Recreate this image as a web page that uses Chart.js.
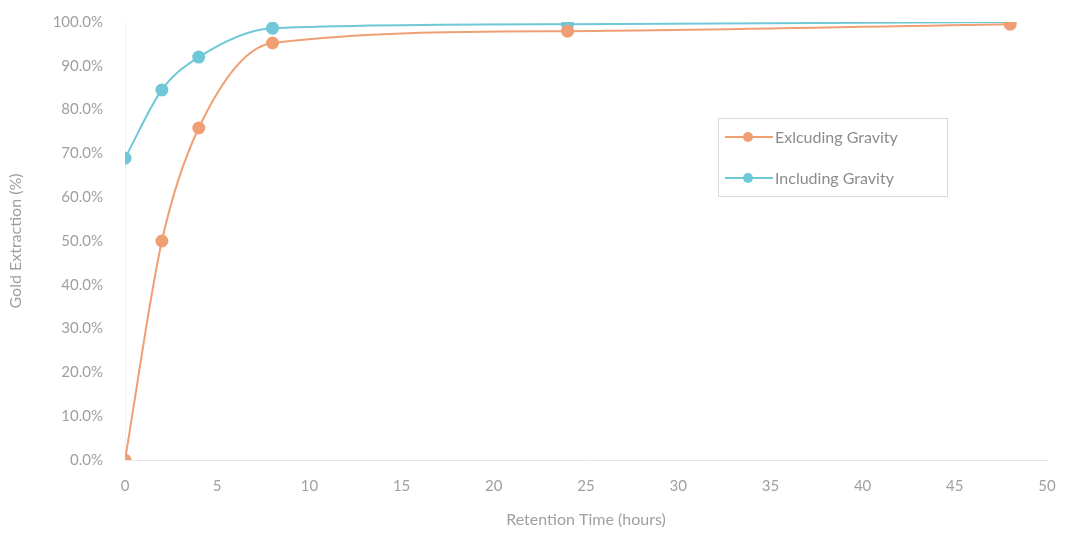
<!DOCTYPE html>
<html lang="en">
<head>
  <meta charset="UTF-8" />
  <title>Gold Extraction</title>
  <script src="https://cdn.jsdelivr.net/npm/chart.js@4.4.0/dist/chart.umd.min.js"></script>
  <style>
    body { margin: 0; background: #fff; font-family: Lato, "Open Sans", sans-serif; }
    #wrap { position: relative; width: 1065px; height: 533px; }
    #legend {
      position: absolute; left: 718px; top: 118px; width: 230px; height: 79px;
      border: 1px solid #d9d9d9; box-sizing: border-box; color: #8c8c8c; font-size: 16px;
    }
    .item { position: absolute; left: 6px; display: flex; align-items: center; }
    .mark { position: relative; width: 48px; height: 12px; margin-right: 2px; }
    .mark .ln { position: absolute; left: 0; right: 0; top: 5px; height: 2px; }
    .mark .dot { position: absolute; left: 18px; top: 1px; width: 10px; height: 10px; border-radius: 50%; }
  </style>
</head>
<body>
  <div id="wrap">
    <canvas id="chart" width="1065" height="533"></canvas>
    <div id="legend"></div>
  </div>

  <script>
    const hours = [0, 2, 4, 8, 24, 48];
    const excluding = [0, 50.0, 75.8, 95.2, 97.9, 99.5];
    const including = [68.9, 84.5, 92.0, 98.6, 99.5, 100.0];
    const seriesNames = ["Exlcuding Gravity", "Including Gravity"];
    const colors = ["#ef9f73", "#6fc8d6"];

    const toPoints = (vals) => hours.map((h, i) => ({ x: h, y: vals[i] }));

    const chart = new Chart(document.getElementById("chart").getContext("2d"), {
      type: "line",
      data: {
        datasets: [excluding, including].map((vals, i) => ({
          label: seriesNames[i],
          data: toPoints(vals),
          borderColor: colors[i],
          backgroundColor: colors[i],
          borderWidth: 2,
          pointRadius: 5.5,
          pointHoverRadius: 5.5,
          cubicInterpolationMode: "monotone",
        })),
      },
      options: {
        responsive: false,
        animation: false,
        layout: { padding: 0 },
        plugins: { legend: { display: false }, tooltip: { enabled: false } },
        scales: {
          x: {
            type: "linear",
            min: 0,
            max: 50,
            grid: { display: false, drawTicks: false },
            border: { display: true, color: "#e6e6e6" },
            ticks: { stepSize: 5, padding: 17, color: "#a0a0a0", font: { family: "Lato", size: 15 } },
            title: {
              display: true, text: "Retention Time (hours)", color: "#a0a0a0",
              font: { family: "Lato", size: 16 }, padding: { top: 6 }
            },
            // tick padding is added to the end margins, so set them here
            afterFit: (s) => { s.height = 73; s.paddingLeft = 0; s.paddingRight = 18; },
          },
          y: {
            min: 0,
            max: 100,
            grid: { display: false, drawTicks: false },
            border: { display: true, color: "#f0f0f0" },
            ticks: {
              stepSize: 10, padding: 22, color: "#a0a0a0", font: { family: "Lato", size: 15 },
              callback: (v) => v.toFixed(1) + "%",
            },
            title: {
              display: true, text: "Gold Extraction (%)", color: "#a0a0a0",
              font: { family: "Lato", size: 16 }, padding: { top: 6, bottom: 0 }
            },
            afterFit: (s) => { s.width = 125; s.paddingTop = 22; s.paddingBottom = 0; },
          },
        },
      },
    });

    // legend box drawn as html
    const legend = document.getElementById("legend");
    seriesNames.forEach((name, i) => {
      const it = document.createElement("div");
      it.className = "item";
      it.style.top = (i === 0 ? 8 : 49) + "px";
      it.innerHTML = `<span class="mark"><span class="ln" style="background:${colors[i]}"></span>` +
        `<span class="dot" style="background:${colors[i]}"></span></span><span>${name}</span>`;
      legend.appendChild(it);
    });
  </script>
</body>
</html>
